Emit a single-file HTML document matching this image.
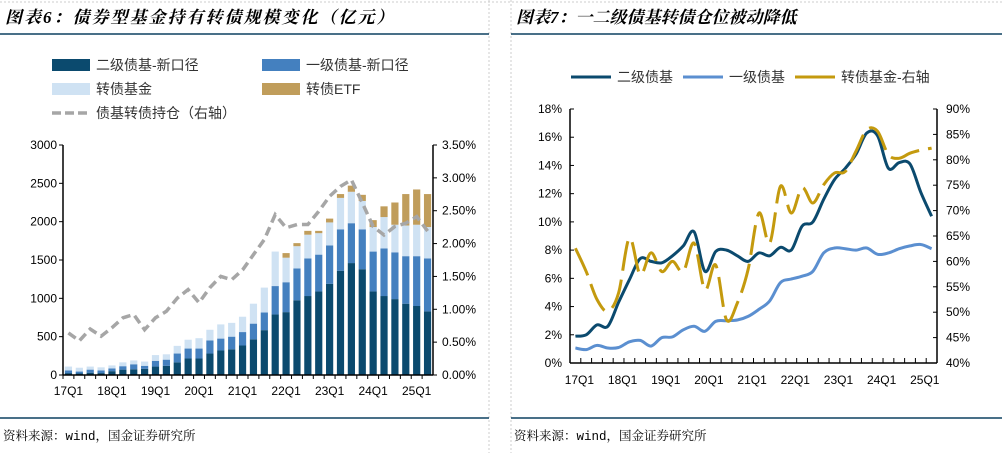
<!DOCTYPE html>
<html><head><meta charset="utf-8">
<style>
body{margin:0;width:1002px;height:453px;background:#fff;overflow:hidden;font-family:"Liberation Sans","Noto Sans CJK SC",sans-serif;}
svg{position:absolute;left:0;top:0}
</style></head>
<body>
<svg id="s" width="1002" height="453" viewBox="0 0 1002 453">
<g>
<line x1="0" y1="2" x2="1002" y2="2" stroke="#ccc" stroke-dasharray="2,2"/>
<line x1="489" y1="0" x2="489" y2="453" stroke="#ccc" stroke-dasharray="2,2"/>
<line x1="511" y1="0" x2="511" y2="453" stroke="#ccc" stroke-dasharray="2,2"/>
<line x1="0" y1="34" x2="489" y2="34" stroke="#0d4060" stroke-width="1.5"/>
<line x1="511" y1="34" x2="1002" y2="34" stroke="#0d4060" stroke-width="1.5"/>
<line x1="0" y1="418" x2="489" y2="418" stroke="#0d4060" stroke-width="1.5"/>
<line x1="511" y1="418" x2="1002" y2="418" stroke="#0d4060" stroke-width="1.5"/>
</g>
<text x="5" y="23" font-size="17" letter-spacing="2" font-weight="bold" font-style="italic" font-family="Liberation Serif,Noto Serif CJK SC,serif">图表6：债券型基金持有转债规模变化（亿元）</text>
<text x="516" y="23" font-size="17" font-weight="bold" font-style="italic" font-family="Liberation Serif,Noto Serif CJK SC,serif">图表7：一二级债基转债仓位被动降低</text>
<text x="3" y="440" font-size="12.5" font-family="Liberation Mono,Noto Serif CJK SC,monospace">资料来源：wind，国金证券研究所</text>
<text x="514" y="440" font-size="12.5" font-family="Liberation Mono,Noto Serif CJK SC,monospace">资料来源：wind，国金证券研究所</text>
<g id="L"></g><g id="R"></g>
</svg>
<script>
const categories=["17Q1","17Q2","17Q3","17Q4","18Q1","18Q2","18Q3","18Q4","19Q1","19Q2","19Q3","19Q4","20Q1","20Q2","20Q3","20Q4","21Q1","21Q2","21Q3","21Q4","22Q1","22Q2","22Q3","22Q4","23Q1","23Q2","23Q3","23Q4","24Q1","24Q2","24Q3","24Q4","25Q1","25Q2"];
const tickLabels=["17Q1","18Q1","19Q1","20Q1","21Q1","22Q1","23Q1","24Q1","25Q1"];
const secondaryBond=[25,20,30,25,50,70,75,80,110,120,165,215,215,280,320,335,385,465,585,790,820,975,1030,1090,1190,1360,1460,1380,1090,1030,990,930,900,830];
const primaryBond=[35,25,40,35,35,45,65,40,75,80,115,130,130,170,155,165,175,205,230,370,390,415,490,480,500,540,520,520,520,620,610,620,650,690];
const cbFund=[50,50,40,40,40,50,50,55,75,70,100,115,135,140,185,180,200,260,325,450,320,290,310,280,300,410,410,370,320,410,360,400,410,410];
const cbEtf=[0,0,0,0,0,0,0,0,0,0,0,0,0,0,0,0,0,0,0,0,60,40,50,30,50,50,80,80,90,140,290,410,460,430];
const holdPct=[0.64,0.52,0.70,0.59,0.72,0.87,0.92,0.69,0.87,0.97,1.17,1.30,1.10,1.33,1.50,1.45,1.60,1.83,2.06,2.44,2.24,2.29,2.29,2.49,2.72,2.87,2.97,2.62,2.26,2.13,2.26,2.31,2.41,2.19];
const leftTicks=[0,500,1000,1500,2000,2500,3000];
const rightTicksL=[0,0.5,1,1.5,2,2.5,3,3.5];
const secondaryPos=[1.9,2.0,2.7,2.6,4.3,5.9,7.4,7.2,7.1,7.6,8.3,9.3,6.5,7.9,8.0,7.6,7.2,7.8,7.6,8.2,8.0,9.7,10.0,11.6,13.0,13.8,14.8,16.3,16.1,13.8,14.2,14.1,12.1,10.4];
const primaryPos=[1.06,0.95,1.25,1.06,1.1,1.5,1.6,1.2,1.8,1.85,2.35,2.6,2.25,2.95,3.0,3.05,3.3,3.8,4.4,5.7,5.95,6.15,6.5,7.8,8.15,8.1,8.0,8.15,7.7,7.8,8.1,8.3,8.4,8.1];
const cbFundPos=[62.6,58,52.5,50.2,53.8,64.6,57.4,61.7,58,60,58,63.6,54.4,59.3,48.5,51.8,58.4,69.5,63.6,74.8,69.5,74.5,71.5,75.1,77.4,77.7,81.7,85.9,85.6,81,80.3,81.3,81.9,82.3];
const rLeftTicks=[0,2,4,6,8,10,12,14,16,18];
const rRightTicks=[40,45,50,55,60,65,70,75,80,85,90];

const NS="http://www.w3.org/2000/svg";
function mk(p,t,a,txt){const e=document.createElementNS(NS,t);for(const k in a)e.setAttribute(k,a[k]);if(txt!==undefined)e.textContent=txt;p.appendChild(e);return e;}
function pathD(xs,ys){let d="";for(let i=0;i<xs.length;i++){d+=(i?"L":"M")+xs[i].toFixed(1)+","+ys[i].toFixed(1);}return d;}
function smooth(xs,ys){let d="M"+xs[0]+","+ys[0];for(let i=0;i<xs.length-1;i++){const p0=i?i-1:0,p3=i+2<xs.length?i+2:i+1;const c1x=xs[i]+(xs[i+1]-xs[p0])/6,c1y=ys[i]+(ys[i+1]-ys[p0])/6,c2x=xs[i+1]-(xs[p3]-xs[i])/6,c2y=ys[i+1]-(ys[p3]-ys[i])/6;d+="C"+c1x.toFixed(1)+","+c1y.toFixed(1)+" "+c2x.toFixed(1)+","+c2y.toFixed(1)+" "+xs[i+1].toFixed(1)+","+ys[i+1].toFixed(1);}return d;}

const L=document.getElementById('L');
const lx0=63,lx1=433,ly0=375,ly1=145;
const n=categories.length,step=(lx1-lx0)/n;
const xL=i=>lx0+step*(i+0.5);
const yL=v=>ly0-(v/3000)*(ly0-ly1);
const yLR=v=>ly0-(v/3.5)*(ly0-ly1);
leftTicks.forEach(t=>{const lab=mk(L,'text',{x:57,y:yL(t)+4,'font-size':12,'text-anchor':'end'},t);


mk(L,'line',{x1:lx0-4,x2:lx0,y1:yL(t),y2:yL(t),stroke:'#000'});});
rightTicksL.forEach(t=>{const lab=mk(L,'text',{x:442,y:yLR(t)+4,'font-size':12},t.toFixed(2)+'%');


mk(L,'line',{x1:lx1,x2:lx1+4,y1:yLR(t),y2:yLR(t),stroke:'#000'});});
const bw=7.2;
categories.forEach((c,i)=>{
 let base=0;
 [[secondaryBond,'#0b4a6e','bar-secondary-bond'],[primaryBond,'#4480bf','bar-primary-bond'],[cbFund,'#cfe2f3','bar-cb-fund'],[cbEtf,'#c09d5b','bar-cb-etf']].forEach(([arr,col,nm])=>{
  const v=arr[i];if(v<=0)return;
  const r=mk(L,'rect',{x:xL(i)-bw/2,y:yL(base+v),width:bw,height:yL(base)-yL(base+v),fill:col});
  
  
  base+=v;});
 mk(L,'line',{x1:lx0+step*i,x2:lx0+step*i,y1:ly0,y2:ly0+4,stroke:'#000'});
});
const hl=mk(L,'path',{d:pathD(holdPct.map((v,i)=>xL(i)),holdPct.map(yLR)),fill:'none',stroke:'#a6a6a6','stroke-width':3.5,'stroke-dasharray':'9,5'});


mk(L,'line',{x1:lx0,x2:lx0,y1:ly1,y2:ly0,stroke:'#000','stroke-width':1.5});
mk(L,'line',{x1:lx1,x2:lx1,y1:ly1,y2:ly0,stroke:'#000','stroke-width':1.5});
mk(L,'line',{x1:lx0,x2:lx1,y1:ly0,y2:ly0,stroke:'#000','stroke-width':1.5});
tickLabels.forEach(t=>{const i=categories.indexOf(t);const lab=mk(L,'text',{x:xL(i),y:395,'font-size':12,'text-anchor':'middle'},t);

});
const lg=[[52,59,'#0b4a6e','二级债基-新口径'],[262,59,'#4480bf','一级债基-新口径'],[52,83,'#cfe2f3','转债基金'],[262,83,'#c09d5b','转债ETF']];
lg.forEach(([x,y,c,t])=>{const g=mk(L,'g',{});


mk(g,'rect',{x:x,y:y,width:38,height:12,fill:c});mk(g,'text',{x:x+44,y:y+11,'font-size':14,fill:'#333'},t);});
const lg5=mk(L,'g',{});


mk(lg5,'line',{x1:52,x2:90,y1:113,y2:113,stroke:'#a6a6a6','stroke-width':3.5,'stroke-dasharray':'9,4'});
mk(lg5,'text',{x:96,y:118,'font-size':14,fill:'#333'},'债基转债持仓（右轴）');

const R=document.getElementById('R');
const rx0=570,rx1=937,ry0=363,ry1=109;
const rstep=(rx1-rx0)/n;
const xR=i=>rx0+rstep*(i+0.5);
const yR=v=>ry0-(v/18)*(ry0-ry1);
const yR2=v=>ry0-((v-40)/50)*(ry0-ry1);
rLeftTicks.forEach(t=>{const lab=mk(R,'text',{x:562,y:yR(t)+4,'font-size':12,'text-anchor':'end'},t+'%');


mk(R,'line',{x1:rx0,x2:rx0+4,y1:yR(t),y2:yR(t),stroke:'#000'});});
rRightTicks.forEach(t=>{const lab=mk(R,'text',{x:946,y:yR2(t)+4,'font-size':12},t+'%');


mk(R,'line',{x1:rx1-4,x2:rx1,y1:yR2(t),y2:yR2(t),stroke:'#000'});});
for(let i=0;i<=n;i++)mk(R,'line',{x1:rx0+rstep*i,x2:rx0+rstep*i,y1:ry0,y2:ry0-5,stroke:'#000'});
const xs=categories.map((c,i)=>xR(i));
const l1=mk(R,'path',{d:smooth(xs,primaryPos.map(yR)),fill:'none',stroke:'#5b8fd0','stroke-width':3});


const l2=mk(R,'path',{d:smooth(xs,secondaryPos.map(yR)),fill:'none',stroke:'#0b4a6e','stroke-width':3});


const l3=mk(R,'path',{d:smooth(xs,cbFundPos.map(yR2)),fill:'none',stroke:'#c49a0e','stroke-width':3,'stroke-dasharray':'30,9'});


mk(R,'line',{x1:rx0,x2:rx0,y1:ry1,y2:ry0,stroke:'#000','stroke-width':1.5});
mk(R,'line',{x1:rx1,x2:rx1,y1:ry1,y2:ry0,stroke:'#000','stroke-width':1.5});
mk(R,'line',{x1:rx0,x2:rx1,y1:ry0,y2:ry0,stroke:'#000','stroke-width':1.5});
tickLabels.forEach(t=>{const i=categories.indexOf(t);const lab=mk(R,'text',{x:xR(i)+4,y:384,'font-size':12,'text-anchor':'middle'},t);

});
[[571,'#0b4a6e','二级债基'],[683,'#5b8fd0','一级债基'],[795,'#c49a0e','转债基金-右轴']].forEach(([x,c,t])=>{const g=mk(R,'g',{});


mk(g,'line',{x1:x,x2:x+40,y1:77,y2:77,stroke:c,'stroke-width':3});mk(g,'text',{x:x+46,y:82,'font-size':14,fill:'#333'},t);});
</script>
</body></html>
